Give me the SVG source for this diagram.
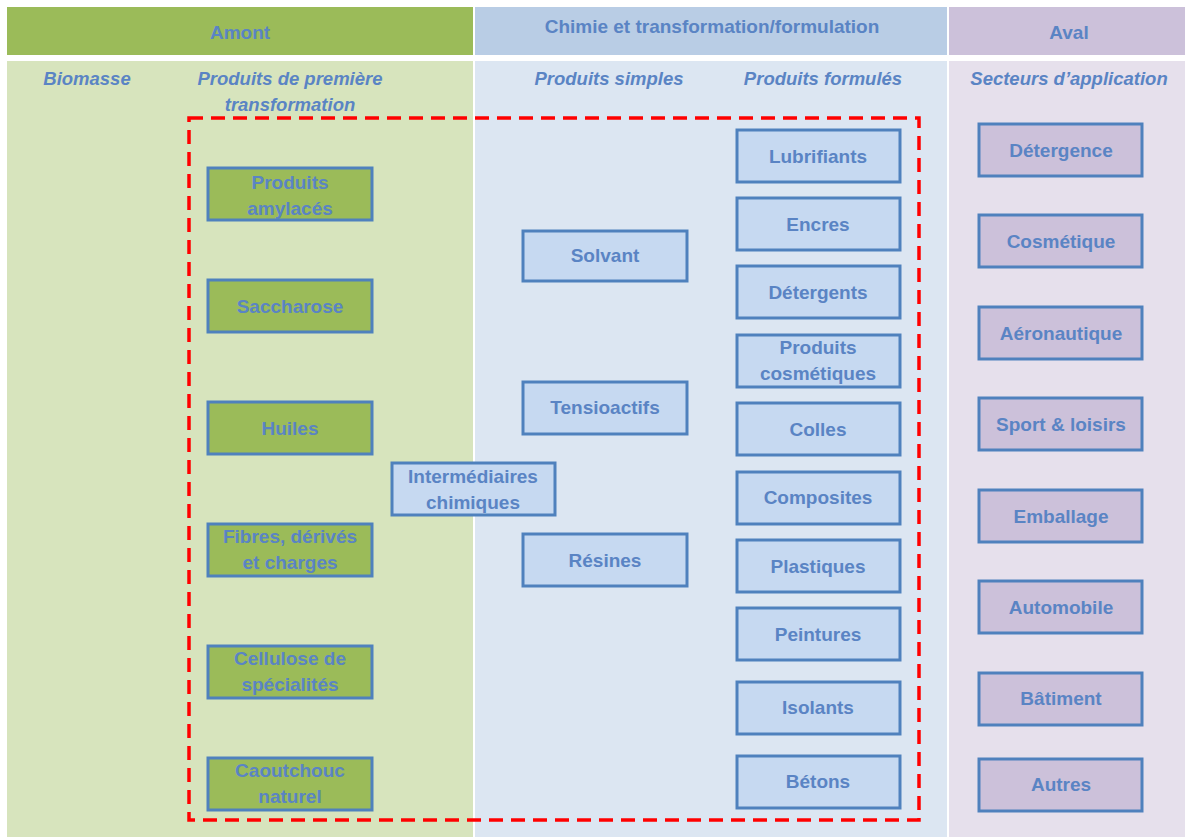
<svg xmlns="http://www.w3.org/2000/svg" width="1185" height="837" viewBox="0 0 1185 837">
<style>
.t{font-family:"Liberation Sans",Arial,sans-serif;font-weight:bold;font-size:19px;fill:#5A84C4;text-anchor:middle}
.h{font-family:"Liberation Sans",Arial,sans-serif;font-weight:bold;font-style:italic;font-size:18.5px;fill:#5A84C4;text-anchor:middle}
.g rect{fill:#9BBB59;stroke:#4F81BD;stroke-width:3}
.b rect{fill:#C6D9F1;stroke:#4F81BD;stroke-width:3}
.p rect{fill:#CCC1DA;stroke:#4F81BD;stroke-width:3}
</style>
<rect width="1185" height="837" fill="#FFFFFF"/>
<g id="columns">
<rect x="7" y="7" width="466" height="48" fill="#9BBB59"/>
<rect x="475" y="7" width="472" height="48" fill="#B9CDE5"/>
<rect x="949" y="7" width="236" height="48" fill="#CCC1DA"/>
<rect x="7" y="61" width="466" height="776" fill="#D7E4BD"/>
<rect x="475" y="61" width="472" height="776" fill="#DCE6F2"/>
<rect x="949" y="61" width="236" height="776" fill="#E6E0EC"/>
<text class="t" x="240" y="39">Amont</text>
<text class="t" x="712" y="33">Chimie et transformation/formulation</text>
<text class="t" x="1069" y="39">Aval</text>
<text class="h" x="87" y="85">Biomasse</text>
<text class="h" x="290" y="85">Produits de première</text>
<text class="h" x="290" y="111">transformation</text>
<text class="h" x="609" y="85">Produits simples</text>
<text class="h" x="823" y="85">Produits formulés</text>
<text class="h" x="1069" y="85">Secteurs d’application</text>
</g>
<g id="connectors">
<rect x="189" y="118" width="730" height="702" fill="none" stroke="#FF0000" stroke-width="3.5" stroke-dasharray="14,8"/>
</g>
<g id="amylaces" class="g"><rect x="208" y="168" width="164" height="52"/><text class="t" x="290" y="189">Produits</text><text class="t" x="290" y="215">amylacés</text></g>
<g id="saccharose" class="g"><rect x="208" y="280" width="164" height="52"/><text class="t" x="290" y="313">Saccharose</text></g>
<g id="huiles" class="g"><rect x="208" y="402" width="164" height="52"/><text class="t" x="290" y="435">Huiles</text></g>
<g id="fibres" class="g"><rect x="208" y="524" width="164" height="52"/><text class="t" x="290" y="543">Fibres, dérivés</text><text class="t" x="290" y="569">et charges</text></g>
<g id="cellulose" class="g"><rect x="208" y="646" width="164" height="52"/><text class="t" x="290" y="665">Cellulose de</text><text class="t" x="290" y="691">spécialités</text></g>
<g id="caoutchouc" class="g"><rect x="208" y="758" width="164" height="52"/><text class="t" x="290" y="777">Caoutchouc</text><text class="t" x="290" y="803">naturel</text></g>
<g id="solvant" class="b"><rect x="523" y="231" width="164" height="50"/><text class="t" x="605" y="262">Solvant</text></g>
<g id="tensioactifs" class="b"><rect x="523" y="382" width="164" height="52"/><text class="t" x="605" y="414">Tensioactifs</text></g>
<g id="resines" class="b"><rect x="523" y="534" width="164" height="52"/><text class="t" x="605" y="567">Résines</text></g>
<g id="intermediaires" class="b"><rect x="392" y="463" width="163" height="52"/><text class="t" x="473" y="483">Intermédiaires</text><text class="t" x="473" y="509">chimiques</text></g>
<g id="lubrifiants" class="b"><rect x="737" y="130" width="163" height="52"/><text class="t" x="818" y="163">Lubrifiants</text></g>
<g id="encres" class="b"><rect x="737" y="198" width="163" height="52"/><text class="t" x="818" y="231">Encres</text></g>
<g id="detergents" class="b"><rect x="737" y="266" width="163" height="52"/><text class="t" x="818" y="299">Détergents</text></g>
<g id="cosmetiques" class="b"><rect x="737" y="335" width="163" height="52"/><text class="t" x="818" y="354">Produits</text><text class="t" x="818" y="380">cosmétiques</text></g>
<g id="colles" class="b"><rect x="737" y="403" width="163" height="52"/><text class="t" x="818" y="436">Colles</text></g>
<g id="composites" class="b"><rect x="737" y="472" width="163" height="52"/><text class="t" x="818" y="504">Composites</text></g>
<g id="plastiques" class="b"><rect x="737" y="540" width="163" height="52"/><text class="t" x="818" y="573">Plastiques</text></g>
<g id="peintures" class="b"><rect x="737" y="608" width="163" height="52"/><text class="t" x="818" y="641">Peintures</text></g>
<g id="isolants" class="b"><rect x="737" y="682" width="163" height="52"/><text class="t" x="818" y="714">Isolants</text></g>
<g id="betons" class="b"><rect x="737" y="756" width="163" height="52"/><text class="t" x="818" y="788">Bétons</text></g>
<g id="detergence" class="p"><rect x="979" y="124" width="163" height="52"/><text class="t" x="1061" y="157">Détergence</text></g>
<g id="cosmetique" class="p"><rect x="979" y="215" width="163" height="52"/><text class="t" x="1061" y="248">Cosmétique</text></g>
<g id="aeronautique" class="p"><rect x="979" y="307" width="163" height="52"/><text class="t" x="1061" y="340">Aéronautique</text></g>
<g id="sport" class="p"><rect x="979" y="398" width="163" height="52"/><text class="t" x="1061" y="431">Sport &amp; loisirs</text></g>
<g id="emballage" class="p"><rect x="979" y="490" width="163" height="52"/><text class="t" x="1061" y="523">Emballage</text></g>
<g id="automobile" class="p"><rect x="979" y="581" width="163" height="52"/><text class="t" x="1061" y="614">Automobile</text></g>
<g id="batiment" class="p"><rect x="979" y="673" width="163" height="52"/><text class="t" x="1061" y="705">Bâtiment</text></g>
<g id="autres" class="p"><rect x="979" y="759" width="163" height="52"/><text class="t" x="1061" y="791">Autres</text></g>
</svg>
